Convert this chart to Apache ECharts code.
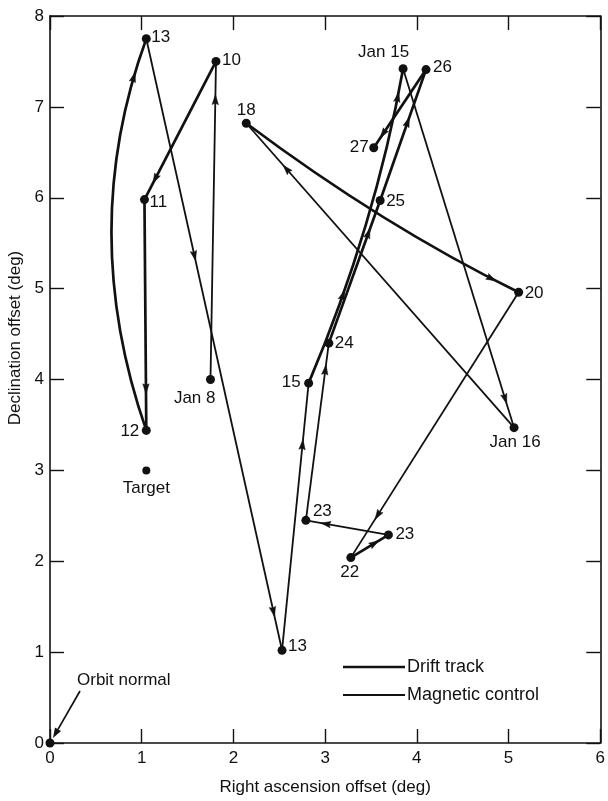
<!DOCTYPE html>
<html><head><meta charset="utf-8">
<script src="https://cdn.jsdelivr.net/npm/echarts@6.0.0/dist/echarts.min.js"></script>
<style>html,body{margin:0;padding:0;background:#fff}#c{width:608px;height:801px}</style>
</head><body><div id="c"></div>
<script>
// ---- data ----
const xTicks = [0, 1, 2, 3, 4, 5, 6];
const yTicks = [0, 1, 2, 3, 4, 5, 6, 7, 8];
const pointLabels = ['Jan 8', '10', '11', '12', '13', '13', '15', 'Jan 15', 'Jan 16', '18', '20', '22', '23', '23', '24', '25', '26', '27'];
const pointX = [1.75, 1.81, 1.03, 1.05, 1.05, 2.53, 2.82, 3.85, 5.06, 2.14, 5.11, 3.28, 3.69, 2.79, 3.04, 3.60, 4.10, 3.53];
const pointY = [4.00, 7.50, 5.98, 3.44, 7.75, 1.02, 3.96, 7.42, 3.47, 6.82, 4.96, 2.04, 2.29, 2.45, 4.40, 5.97, 7.41, 6.55];
// segment i runs from point i to point i+1
const segmentKind = ['magnetic', 'drift', 'drift', 'drift', 'magnetic', 'magnetic', 'drift', 'magnetic', 'magnetic', 'drift', 'magnetic', 'drift', 'magnetic', 'magnetic', 'drift', 'drift', 'drift'];
// a point the curved segments pass through halfway (null = straight)
const segmentViaX = [null, null, null, 0.67, null, null, 3.44, null, null, 3.63, null, null, null, null, null, null, null];
const segmentViaY = [null, null, null, 5.62, null, null, 5.69, null, null, 5.79, null, null, null, null, null, null, null];
const arrowFractions = [[0.88], [0.85], [0.82], [0.9], [0.355, 0.937], [0.77], [0.28, 0.91], [0.92], [0.85], [0.9], [0.84], [0.63], [0.76], [0.85], [0.77], [0.6], [0.82]];
const targetPoint = [1.05, 3.0];
const orbitNormalPoint = [0, 0];
const legendNames = ['Drift track', 'Magnetic control'];
const xAxisName = 'Right ascension offset (deg)';
const yAxisName = 'Declination offset (deg)';

// ---- label placement (style) ----
const labelPlace = {
  0: [5, 19, 'right'], 1: [6, -1, 'left'], 2: [5, 3, 'left'], 3: [-7, 1, 'right'],
  4: [5, -1, 'left'], 5: [6, -4, 'left'], 6: [-8, -1, 'right'], 7: [6, -16, 'right'],
  8: [1, 15, 'center'], 9: [0, -13, 'center'], 10: [6, 1, 'left'], 11: [-1, 15, 'center'],
  12: [7, -1, 'left'], 13: [7, -9, 'left'], 14: [6, 0, 'left'], 15: [6, 1, 'left'],
  16: [7, -2, 'left'], 17: [-5, 0, 'right']
};
const FONT = 'Liberation Sans, Arial, sans-serif';
const INK = '#111';

const chart = echarts.init(document.getElementById('c'), null, {renderer: 'canvas'});

function segData() {
  const d = [];
  for (let i = 0; i < pointX.length - 1; i++) d.push([pointX[i], pointY[i], i]);
  return d;
}

function renderSegment(params, api) {
  const i = api.value(2);
  const p0 = api.coord([pointX[i], pointY[i]]);
  const p1 = api.coord([pointX[i + 1], pointY[i + 1]]);
  let c;
  const curved = segmentViaX[i] != null;
  if (curved) {
    const v = api.coord([segmentViaX[i], segmentViaY[i]]);
    c = [2 * v[0] - 0.5 * (p0[0] + p1[0]), 2 * v[1] - 0.5 * (p0[1] + p1[1])];
  } else {
    c = [(p0[0] + p1[0]) / 2, (p0[1] + p1[1]) / 2];
  }
  const w = segmentKind[i] === 'drift' ? 2.7 : 1.8;
  const children = [];
  if (curved) {
    children.push({type: 'bezierCurve', shape: {x1: p0[0], y1: p0[1], x2: p1[0], y2: p1[1], cpx1: c[0], cpy1: c[1]},
      style: {stroke: INK, lineWidth: w, fill: null}});
  } else {
    children.push({type: 'line', shape: {x1: p0[0], y1: p0[1], x2: p1[0], y2: p1[1]},
      style: {stroke: INK, lineWidth: w}});
  }
  arrowFractions[i].forEach(t => {
    const px = (1 - t) * (1 - t) * p0[0] + 2 * (1 - t) * t * c[0] + t * t * p1[0];
    const py = (1 - t) * (1 - t) * p0[1] + 2 * (1 - t) * t * c[1] + t * t * p1[1];
    let dx = 2 * (1 - t) * (c[0] - p0[0]) + 2 * t * (p1[0] - c[0]);
    let dy = 2 * (1 - t) * (c[1] - p0[1]) + 2 * t * (p1[1] - c[1]);
    const L = Math.hypot(dx, dy); dx /= L; dy /= L;
    const nx = -dy, ny = dx;
    const tip = [px + dx * 5, py + dy * 5];
    const b = [px - dx * 5, py - dy * 5];
    children.push({type: 'polygon', shape: {points: [tip, [b[0] + nx * 3.2, b[1] + ny * 3.2], [b[0] + dx * 1.5, b[1] + dy * 1.5], [b[0] - nx * 3.2, b[1] - ny * 3.2]]},
      style: {fill: INK, stroke: INK, lineWidth: 0.5}});
  });
  return {type: 'group', children};
}

function renderOrbitNote(params, api) {
  const p = api.coord(orbitNormalPoint);
  const s = [p[0] + 30, p[1] - 52];
  const e = [p[0] + 3, p[1] - 5];
  let dx = e[0] - s[0], dy = e[1] - s[1];
  const L = Math.hypot(dx, dy); dx /= L; dy /= L;
  const nx = -dy, ny = dx;
  const b = [e[0] - dx * 10, e[1] - dy * 10];
  return {type: 'group', children: [
    {type: 'line', shape: {x1: s[0], y1: s[1], x2: b[0], y2: b[1]}, style: {stroke: INK, lineWidth: 1.7}},
    {type: 'polygon', shape: {points: [e, [b[0] + nx * 3.5, b[1] + ny * 3.5], [b[0] - nx * 3.5, b[1] - ny * 3.5]]}, style: {fill: INK}},
    {type: 'text', x: p[0] + 27, y: p[1] - 63, style: {text: 'Orbit normal', font: '17px ' + FONT, fill: INK, textAlign: 'left', textVerticalAlign: 'middle'}}
  ]};
}

const pointData = pointX.map((x, i) => {
  const pl = labelPlace[i];
  return {value: [x, pointY[i]], name: pointLabels[i],
    label: {show: true, position: 'inside', align: pl[2], verticalAlign: 'middle', offset: [pl[0], pl[1]]}};
});

const axisCommon = {
  min: 0, splitLine: {show: false},
  axisLine: {show: true, onZero: false, lineStyle: {color: INK, width: 1.6}},
  axisTick: {show: true, inside: true, length: 14, lineStyle: {color: INK, width: 1.4}},
};

chart.setOption({
  animation: false,
  backgroundColor: '#fff',
  grid: {left: 50, right: 3, top: 16, bottom: 51, containLabel: false},
  xAxis: [
    Object.assign({}, axisCommon, {type: 'value', position: 'bottom', max: 6, interval: 1,
      axisLabel: {show: true, fontSize: 17, color: INK, fontFamily: FONT, margin: 7, formatter: v => xTicks.includes(v) ? String(v) : ''},
      name: xAxisName, nameLocation: 'middle', nameGap: 36,
      nameTextStyle: {fontSize: 17, color: INK, fontFamily: FONT}}),
    Object.assign({}, axisCommon, {type: 'value', position: 'top', max: 6, interval: 1, axisLabel: {show: false}})
  ],
  yAxis: [
    Object.assign({}, axisCommon, {type: 'value', position: 'left', max: 8, interval: 1,
      axisLabel: {show: true, fontSize: 17, color: INK, fontFamily: FONT, margin: 6, formatter: v => yTicks.includes(v) ? String(v) : ''}}),
    Object.assign({}, axisCommon, {type: 'value', position: 'right', max: 8, interval: 1, axisLabel: {show: false}})
  ],
  series: [
    {type: 'custom', name: 'track', renderItem: renderSegment, data: segData(), encode: {x: 0, y: 1}, clip: false, z: 2, silent: true},
    {type: 'scatter', name: 'points', data: pointData, symbol: 'circle', symbolSize: 9, itemStyle: {color: INK, opacity: 1}, z: 3,
      label: {show: true, formatter: p => p.name, fontSize: 17, color: INK, fontFamily: FONT}},
    {type: 'scatter', name: 'target', data: [{value: targetPoint, name: 'Target'}], symbolSize: 8, itemStyle: {color: INK, opacity: 1}, z: 3,
      label: {show: true, position: 'bottom', distance: 5, formatter: 'Target', fontSize: 17, color: INK, fontFamily: FONT}},
    {type: 'scatter', name: 'orbit', data: [orbitNormalPoint], symbolSize: 9, itemStyle: {color: INK, opacity: 1}, z: 3, clip: false},
    {type: 'custom', name: 'orbitNote', renderItem: renderOrbitNote, data: [orbitNormalPoint], encode: {x: 0, y: 1}, clip: false, z: 3, silent: true}
  ],
  graphic: [
    {type: 'text', x: 15, y: 338, rotation: Math.PI / 2, style: {text: yAxisName, font: '17px ' + FONT, fill: INK, textAlign: 'center', textVerticalAlign: 'middle'}},
    {type: 'line', shape: {x1: 343, y1: 667, x2: 405, y2: 667}, style: {stroke: INK, lineWidth: 2.7}},
    {type: 'text', x: 407, y: 667, style: {text: legendNames[0], font: '18px ' + FONT, fill: INK, textVerticalAlign: 'middle'}},
    {type: 'line', shape: {x1: 343, y1: 695, x2: 405, y2: 695}, style: {stroke: INK, lineWidth: 1.8}},
    {type: 'text', x: 407, y: 695, style: {text: legendNames[1], font: '18px ' + FONT, fill: INK, textVerticalAlign: 'middle'}}
  ]
});
</script>
</body></html>
